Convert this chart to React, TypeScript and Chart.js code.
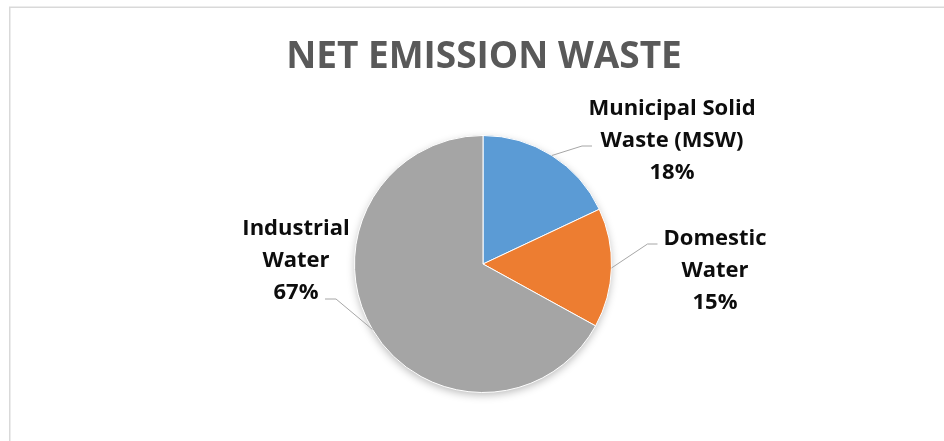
import React, { useEffect, useRef } from "react";
import { Chart, registerables } from "chart.js";

Chart.register(...registerables);

const title = "NET EMISSION WASTE";
const categories = ["Municipal Solid Waste (MSW)", "Domestic Water", "Industrial Water"];
const categoryLines = [["Municipal Solid", "Waste (MSW)"], ["Domestic", "Water"], ["Industrial", "Water"]];
const values = [18, 15, 67];
const colors = ["#5B9BD5", "#ED7D31", "#A5A5A5"];

// label placement (pixel offsets from pie centre) and leader elbows relative to label centre
const labelOffsets = [
  { dx: 189, dy: -125, elbow: [-90, 7], end: [-80, 7] },
  { dx: 232, dy: 5, elbow: [-67.5, -25], end: [-57.5, -25] },
  { dx: -187, dy: -5, elbow: [40, 40], end: [29, 40] },
];

const decorPlugin = {
  id: "decor",
  beforeDraw(chart: any) {
    const ctx = chart.ctx;
    ctx.save();
    ctx.strokeStyle = "#D9D9D9";
    ctx.lineWidth = 1.5;
    ctx.strokeRect(9.75, 7.25, 2000, 2000);
    ctx.fillStyle = "#595959";
    ctx.font = "bold 37px 'Open Sans'";
    ctx.textAlign = "center";
    ctx.textBaseline = "alphabetic";
    ctx.fillText(title, 484, 68);
    ctx.restore();
  },
  beforeDatasetsDraw(chart: any) {
    const meta = chart.getDatasetMeta(0);
    const arc = meta.data[0];
    if (!arc) return;
    const { x, y, outerRadius } = arc.getProps(["x", "y", "outerRadius"], true);
    const ctx = chart.ctx;
    ctx.save();
    ctx.shadowColor = "rgba(0,0,0,0.28)";
    ctx.shadowBlur = 9;
    ctx.shadowOffsetY = 3;
    ctx.fillStyle = "#A5A5A5";
    ctx.beginPath();
    ctx.arc(x, y, outerRadius - 0.5, 0, Math.PI * 2);
    ctx.fill();
    ctx.restore();
  },
  afterDatasetsDraw(chart: any) {
    const meta = chart.getDatasetMeta(0);
    const ctx = chart.ctx;
    const total = values.reduce((a, b) => a + b, 0);
    ctx.save();
    meta.data.forEach((el: any, i: number) => {
      const { x, y, startAngle, endAngle, outerRadius } = el.getProps(
        ["x", "y", "startAngle", "endAngle", "outerRadius"],
        true
      );
      const mid = (startAngle + endAngle) / 2;
      const sx = x + Math.cos(mid) * outerRadius;
      const sy = y + Math.sin(mid) * outerRadius;
      const o = labelOffsets[i];
      const lx = x + o.dx;
      const ly = y + o.dy;
      ctx.strokeStyle = "#A6A6A6";
      ctx.lineWidth = 1;
      ctx.beginPath();
      ctx.moveTo(sx, sy);
      ctx.lineTo(lx + o.elbow[0], ly + o.elbow[1]);
      ctx.lineTo(lx + o.end[0], ly + o.end[1]);
      ctx.stroke();

      const lines = [...categoryLines[i], Math.round((values[i] / total) * 100) + "%"];
      ctx.fillStyle = "#0D0D0D";
      ctx.font = "bold 22px 'Open Sans'";
      ctx.textAlign = "center";
      ctx.textBaseline = "alphabetic";
      const lh = 32;
      lines.forEach((t, k) => {
        ctx.fillText(t, lx, ly + 8 + (k - 1) * lh);
      });
    });
    ctx.restore();
  },
};

export default function App() {
  const ref = useRef<HTMLCanvasElement | null>(null);
  useEffect(() => {
    if (!ref.current) return;
    const chart = new Chart(ref.current, {
      type: "pie",
      data: {
        labels: categories,
        datasets: [
          {
            data: values,
            backgroundColor: colors,
            borderColor: "#FFFFFF",
            borderWidth: 1,
          },
        ],
      },
      options: {
        animation: false,
        responsive: true,
        maintainAspectRatio: false,
        layout: { padding: { top: 135, bottom: 48, left: 283, right: 261 } },
        plugins: {
          legend: { display: false },
          tooltip: { enabled: false },
          title: { display: false },
        },
      },
      plugins: [decorPlugin],
    });
    return () => chart.destroy();
  }, []);
  return (
    <div style={{ position: "fixed", left: 0, top: 0, width: 944, height: 441, background: "#fff" }}>
      <canvas ref={ref} />
    </div>
  );
}
